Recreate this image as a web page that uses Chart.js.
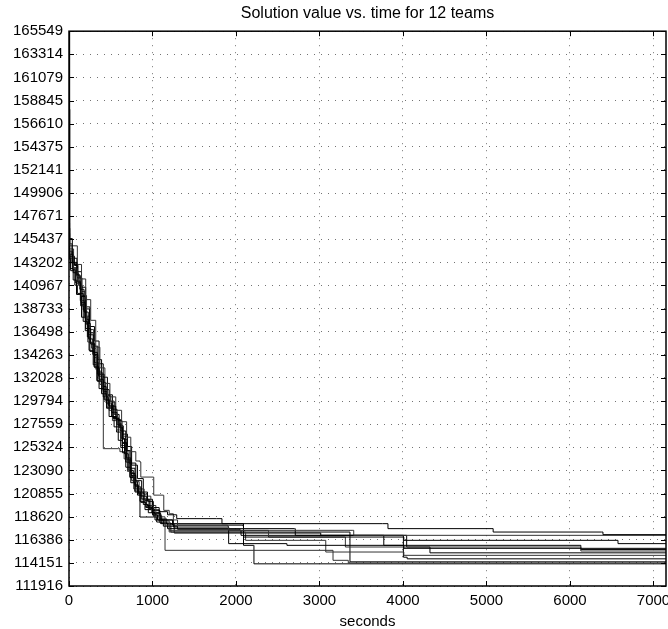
<!DOCTYPE html>
<html>
<head>
<meta charset="utf-8">
<script src="https://cdn.jsdelivr.net/npm/chart.js@4"></script>
<style>
  html, body { margin: 0; padding: 0; background: #fff; }
  #wrap { width: 668px; height: 629px; }
</style>
</head>
<body>
<div id="wrap"><canvas id="sol-chart"></canvas></div>
<script>
// solution value (objective) vs. elapsed seconds, one run per team
var team1 = [[0,165549],[8,145500],[40,143200],[95,142000],[130,140600],[180,138400],[230,136200],[290,134500],[340,132400],[420,130900],[480,129300],[560,128000],[620,126900],[680,125000],[720,123800],[800,122100],[870,121000],[940,120100],[1010,119500],[1080,119100],[1180,118800],[1290,118427],[1769,118427],[1832,117944],[3757,117944],[3820,117461],[5066,117461],[5080,117132],[6380,117132],[6395,116881],[7150,116881]];
var team2 = [[0,158000],[10,144800],[100,143000],[150,141600],[200,139600],[260,137600],[320,135000],[370,133000],[430,131500],[490,130200],[560,128900],[630,127800],[690,126300],[740,124900],[800,124000],[850,123897],[860,122447],[1010,122447],[1015,120700],[1130,120679],[1135,119229],[1200,118900],[1250,118300],[1300,117800],[1900,117700],[1910,117297],[3400,117297],[3410,116813],[7150,116780]];
var team3 = [[0,150000],[6,144000],[45,142500],[80,141200],[140,139000],[170,138600],[200,136800],[260,135300],[310,133000],[360,131900],[410,130200],[470,129400],[530,128100],[600,127200],[640,125800],[690,124300],[740,122800],[790,121600],[830,120900],[900,120200],[960,119400],[1020,118900],[1100,118300],[1240,117800],[2084,117700],[2090,116649],[4000,116649],[4010,116330],[5976,116330],[6575,116011],[7150,116011]];
var team4 = [[0,148000],[5,143500],[20,142400],[70,141000],[100,140200],[170,137500],[220,136000],[250,134600],[300,133100],[360,131000],[420,129900],[480,128300],[540,127300],[590,126000],[640,124800],[680,123400],[740,121900],[790,121000],[860,120000],[920,119500],[1000,118800],[1060,118300],[1250,117616],[1908,117616],[1912,116011],[2600,116011],[2610,115847],[4000,115847],[4010,115557],[7150,115557]];
var team5 = [[0,147000],[7,144500],[55,142600],[100,141800],[150,140000],[210,137200],[250,136400],[300,134000],[360,132400],[400,130900],[460,129800],[540,128500],[580,127600],[630,126400],[680,124000],[730,122900],[780,122000],[840,121300],[900,120600],[980,119700],[1040,118600],[1150,117800],[1200,117297],[2383,117297],[2390,116649],[3300,116649],[3310,115686],[6120,115686],[6130,115300],[7150,115300]];
var team6 = [[0,152000],[4,143800],[65,142900],[105,141700],[155,139900],[195,138700],[245,137000],[305,135600],[360,133400],[410,132100],[460,130400],[520,129000],[575,127900],[635,126600],[700,125400],[750,123600],[820,122300],[890,120800],[940,120300],[1000,119000],[1090,118000],[1180,117461],[2700,117461],[2710,116813],[3757,116813],[3770,115847],[6120,115847],[6130,115450],[7150,115450]];
var team7 = [[0,146500],[9,144200],[50,143000],[105,141300],[145,139300],[195,137700],[235,135800],[285,134300],[345,132600],[395,131200],[445,129600],[510,128700],[575,127500],[625,126200],[665,124700],[710,123100],[770,122000],[820,120700],[890,119800],[950,119000],[1030,118300],[1130,117700],[1300,117400],[2048,117297],[2060,116813],[4000,116813],[4044,115686],[4323,115122],[7150,115122]];
var team8 = [[0,149000],[6,144300],[40,142700],[85,141400],[135,139500],[185,137900],[225,135500],[270,134900],[325,132800],[370,131400],[420,130000],[480,128900],[520,127900],[570,127000],[620,125500],[675,124200],[725,122500],[775,121300],[850,120400],[920,119600],[990,119000],[1080,118200],[1200,117132],[2108,117132],[2115,116330],[3066,116330],[3075,115200],[4000,115200],[4010,114881],[7150,114881]];
var team9 = [[0,145500],[5,144000],[50,142200],[110,141000],[155,139100],[205,137300],[255,135400],[305,133500],[355,132200],[410,130700],[455,129200],[525,128200],[590,127300],[640,125700],[695,124100],[745,122600],[800,121500],[860,120600],[930,119700],[1000,119200],[1090,118400],[1170,117900],[1260,117036],[3006,117036],[3015,116813],[4000,116813],[4005,114700],[4050,114542],[7150,114542]];
var team10 = [[0,144500],[3,143900],[15,142600],[50,141500],[90,140100],[150,137900],[195,136600],[240,134700],[290,133300],[340,131700],[390,130500],[450,129100],[510,128300],[570,126800],[620,125300],[680,123900],[730,122400],[790,121100],[850,120100],[910,119300],[1010,118700],[1110,118000],[1220,117132],[3305,117132],[3365,114252],[7150,114252]];
var team11 = [[0,165549],[5,145000],[35,143100],[90,141900],[140,140400],[190,138000],[245,136700],[295,134200],[331,131783],[411,131783],[411,125192],[591,125192],[610,124900],[660,124200],[700,123000],[750,122100],[800,121300],[870,120300],[960,119300],[1080,118300],[1150,117944],[1150,115364],[3066,115364],[3162,114398],[3345,114398],[3345,114137],[7150,114137]];
var team12 = [[0,146000],[8,143600],[95,142300],[150,140800],[200,138900],[250,136400],[295,135100],[345,133800],[390,131600],[440,130300],[500,129700],[550,128500],[600,127400],[650,126100],[695,125000],[740,123300],[790,121700],[830,120800],[850,118582],[1010,118582],[1050,118100],[1100,117944],[2084,117944],[2090,115847],[2207,115847],[2215,114059],[7150,114059]];

var yTicks = [111916,114151,116386,118620,120855,123090,125324,127559,129794,132028,134263,136498,138733,140967,143202,145437,147671,149906,152141,154375,156610,158845,161079,163314,165549];
var xTicks = [0,1000,2000,3000,4000,5000,6000,7000];
var xMax = 7150;

var teams = [team1, team2, team3, team4, team5, team6, team7, team8, team9, team10, team11, team12];

// matlab style box with inward tick marks
const boxPlugin = {
    id: 'box',
    afterDatasetsDraw(chart) {
        const ctx = chart.ctx;
        const a = chart.chartArea;
        const x = chart.scales.x, y = chart.scales.y;
        ctx.save();
        ctx.strokeStyle = '#000';
        ctx.lineWidth = 1;
        ctx.beginPath();
        x.ticks.forEach(t => {
            const px = Math.round(x.getPixelForValue(t.value)) + 0.5;
            ctx.moveTo(px, a.bottom); ctx.lineTo(px, a.bottom - 5);
            ctx.moveTo(px, a.top); ctx.lineTo(px, a.top + 5);
        });
        y.ticks.forEach(t => {
            const py = Math.round(y.getPixelForValue(t.value)) + 0.5;
            ctx.moveTo(a.left, py); ctx.lineTo(a.left + 5, py);
            ctx.moveTo(a.right, py); ctx.lineTo(a.right - 5, py);
        });
        ctx.stroke();
        ctx.lineWidth = 1.5;
        ctx.strokeRect(a.left, a.top, a.right - a.left, a.bottom - a.top);
        ctx.restore();
    }
};

const dotted = {
    color: 'rgba(0,0,0,0.55)',
    lineWidth: 1,
    drawTicks: false
};

new Chart(document.getElementById('sol-chart'), {
    type: 'line',
    data: {
        datasets: teams.map((tm, i) => ({
            label: 'team ' + (i + 1),
            data: tm.map(p => ({x: p[0], y: p[1]})),
            borderColor: i % 3 == 1 ? '#333' : '#000',
            borderWidth: 1,
            pointRadius: 0,
            stepped: true,
            fill: false
        }))
    },
    options: {
        responsive: true,
        maintainAspectRatio: false,
        animation: false,
        layout: { padding: { left: 0, right: 2, top: 0, bottom: 0 } },
        plugins: {
            legend: { display: false },
            tooltip: { enabled: false },
            title: {
                display: true,
                text: 'Solution value vs. time for 12 teams',
                fullSize: false,
                color: '#000',
                font: { family: 'Liberation Sans, Arial, sans-serif', size: 16, weight: 'normal' },
                padding: { top: 4, bottom: 8 }
            }
        },
        scales: {
            x: {
                type: 'linear',
                min: 0,
                max: xMax,
                afterBuildTicks: s => { s.ticks = xTicks.map(v => ({value: v})); },
                afterFit: s => { s.height = 43; s.paddingLeft = 0; s.paddingRight = 0; },
                ticks: {
                    color: '#000',
                    padding: 6,
                    maxRotation: 0,
                    font: { family: 'Liberation Sans, Arial, sans-serif', size: 15 },
                    callback: v => String(v)
                },
                grid: Object.assign({}, dotted),
                border: { display: false, dash: [1, 6] },
                title: {
                    display: true,
                    text: 'seconds',
                    color: '#000',
                    padding: { top: 0, bottom: -2 },
                    font: { family: 'Liberation Sans, Arial, sans-serif', size: 15 }
                }
            },
            y: {
                type: 'linear',
                min: yTicks[0],
                max: yTicks[yTicks.length - 1],
                afterBuildTicks: s => { s.ticks = yTicks.map(v => ({value: v})); },
                afterFit: s => { s.width = 69; s.paddingTop = 0; s.paddingBottom = 0; },
                ticks: {
                    color: '#000',
                    padding: 6,
                    autoSkip: false,
                    font: { family: 'Liberation Sans, Arial, sans-serif', size: 15 },
                    callback: v => String(v)
                },
                grid: Object.assign({}, dotted),
                border: { display: false, dash: [1, 6] }
            }
        }
    },
    plugins: [boxPlugin]
});
</script>
</body>
</html>
